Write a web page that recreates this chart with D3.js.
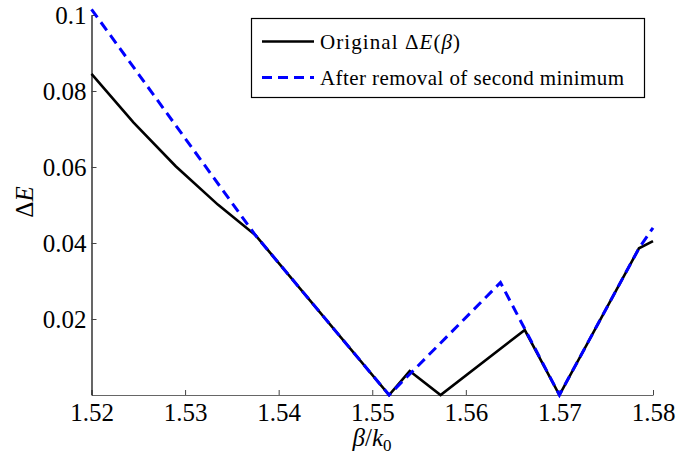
<!DOCTYPE html>
<html>
<head>
<meta charset="utf-8">
<script src="https://d3js.org/d3.v7.min.js"></script>
<style>
  body { margin: 0; background: #fff; }
</style>
</head>
<body>
<svg id="chart" width="677" height="456"></svg>
<script>
// data
var origX = [1.52, 1.5245, 1.5290, 1.5335, 1.5375, 1.5518, 1.5540, 1.5573, 1.5663, 1.5700, 1.5785, 1.58];
var origY = [0.0845, 0.0717, 0.0602, 0.0501, 0.0421, 0.0, 0.0063, 0.0, 0.0171, 0.0, 0.0386, 0.0405];

var afterX = [1.52, 1.5375, 1.5518, 1.5637, 1.5700, 1.5785, 1.58];
var afterY = [0.1015, 0.0421, 0.0, 0.0296, 0.0, 0.0386, 0.0440];

var xTicks = [1.52, 1.53, 1.54, 1.55, 1.56, 1.57, 1.58];
var yTicks = [0.02, 0.04, 0.06, 0.08, 0.1];

var serif = "font-family:'Liberation Serif'";

var svg = d3.select("#chart");

var x = d3.scaleLinear().domain([1.52, 1.58]).range([91.5, 653]);
var y = d3.scaleLinear().domain([0, 0.1]).range([395, 15]);

// axes
var xAxis = svg.append("g")
    .attr("transform", "translate(0," + y(0) + ")")
    .call(d3.axisBottom(x).tickValues(xTicks).tickFormat(d3.format(".2f"))
      .tickSizeInner(-5).tickSizeOuter(0).tickPadding(8));
xAxis.select(".domain").attr("stroke", "#666").attr("stroke-width", 1.2);
xAxis.selectAll(".tick line").attr("stroke", "#444");
xAxis.selectAll("text").attr("style", serif).attr("font-size", 25).attr("fill", "#000");

var yAxis = svg.append("g")
    .attr("transform", "translate(" + x(1.52) + ",0)")
    .call(d3.axisLeft(y).tickValues(yTicks).tickFormat(function(d) { return d === 0.1 ? "0.1" : d3.format(".2f")(d); })
      .tickSizeInner(-5).tickSizeOuter(0).tickPadding(5));
yAxis.select(".domain").attr("stroke", "#000").attr("stroke-width", 1.2);
yAxis.selectAll(".tick line").attr("stroke", "#444");
yAxis.selectAll("text").attr("style", serif).attr("font-size", 25).attr("fill", "#000");

// lines
var line = d3.line()
    .x(function(d) { return x(d[0]); })
    .y(function(d) { return y(d[1]); });

svg.append("path")
    .datum(d3.zip(origX, origY))
    .attr("d", line)
    .attr("fill", "none")
    .attr("stroke", "#000")
    .attr("stroke-width", 2.6);

svg.append("path")
    .datum(d3.zip(afterX, afterY))
    .attr("d", line)
    .attr("fill", "none")
    .attr("stroke", "#0000ff")
    .attr("stroke-width", 3)
    .attr("stroke-dasharray", "10,6");

// axis labels
var xl = svg.append("text")
    .attr("style", serif)
    .attr("x", 372)
    .attr("y", 446)
    .attr("text-anchor", "middle")
    .attr("font-size", 25);
xl.append("tspan").attr("font-style", "italic").text("β");
xl.append("tspan").text("/");
xl.append("tspan").attr("font-style", "italic").text("k");
xl.append("tspan").attr("font-size", 17).attr("dy", 5).text("0");

var yl = svg.append("text")
    .attr("style", serif)
    .attr("transform", "translate(33,202) rotate(-90)")
    .attr("text-anchor", "middle")
    .attr("font-size", 25);
yl.append("tspan").text("Δ");
yl.append("tspan").attr("font-style", "italic").text("E");

// legend
var legend = svg.append("g");
legend.append("rect")
    .attr("x", 251.5).attr("y", 18.5)
    .attr("width", 393).attr("height", 79)
    .attr("fill", "#fff")
    .attr("stroke", "#000")
    .attr("stroke-width", 1.2);

legend.append("line")
    .attr("x1", 262).attr("x2", 314).attr("y1", 41.5).attr("y2", 41.5)
    .attr("stroke", "#000").attr("stroke-width", 2.6);
legend.append("line")
    .attr("x1", 262).attr("x2", 314).attr("y1", 77.5).attr("y2", 77.5)
    .attr("stroke", "#0000ff").attr("stroke-width", 3)
    .attr("stroke-dasharray", "10,6");

var t1 = legend.append("text")
    .attr("style", serif)
    .attr("x", 320).attr("y", 48.5)
    .attr("font-size", 21)
    .attr("textLength", 140)
    .attr("lengthAdjust", "spacing");
t1.append("tspan").text("Original Δ");
t1.append("tspan").attr("font-style", "italic").text("E");
t1.append("tspan").text("(");
t1.append("tspan").attr("font-style", "italic").text("β");
t1.append("tspan").text(")");

legend.append("text")
    .attr("style", serif)
    .attr("x", 320).attr("y", 84.5)
    .attr("font-size", 21)
    .attr("textLength", 304)
    .attr("lengthAdjust", "spacing")
    .text("After removal of second minimum");
</script>
</body>
</html>
